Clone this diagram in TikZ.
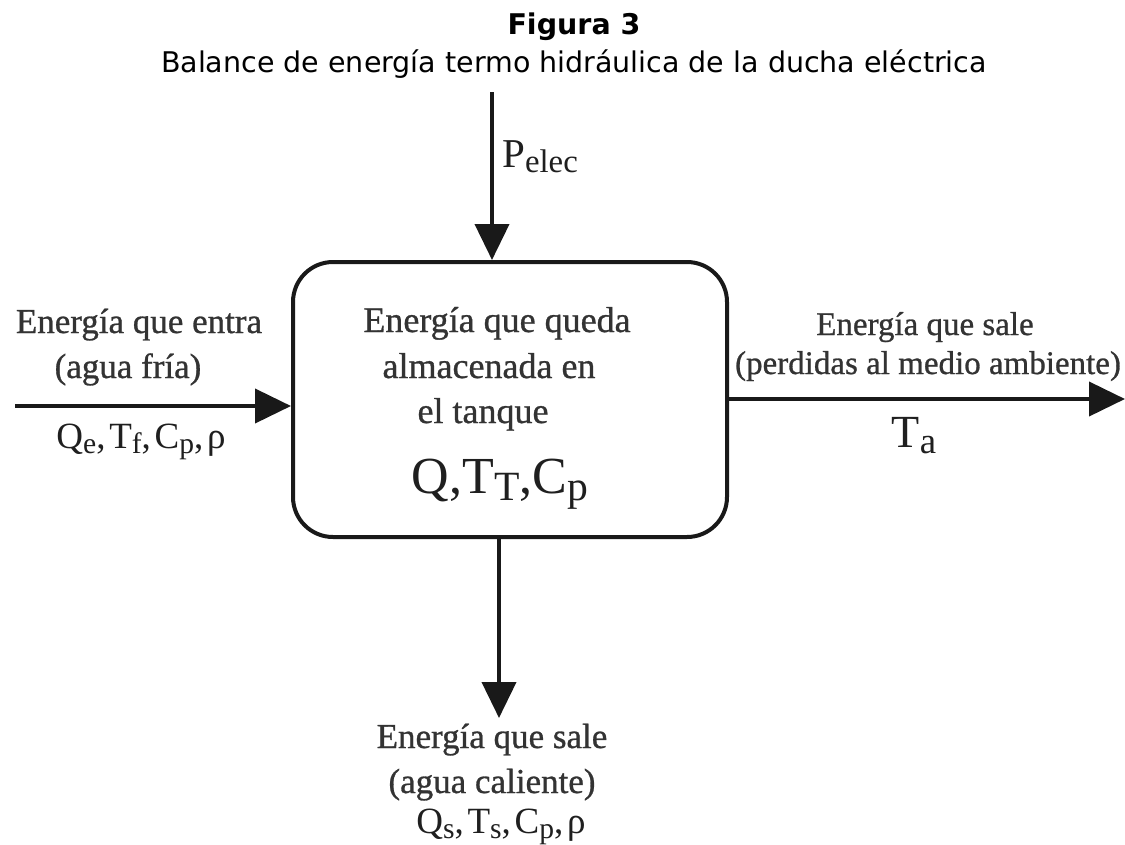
\documentclass[tikz,border=0pt]{standalone}
\usepackage{fontspec}
\usepackage{graphicx}
\setmainfont{Liberation Serif}
\newfontfamily\heavyserif[FakeBold=0.8]{Liberation Serif}
\newfontfamily\titlefont{DejaVu Sans}
\usetikzlibrary{arrows.meta}
\newcommand\sbx[1]{\raisebox{-0.3ex}{\scalebox{0.8}{#1}}}
\newcommand\csp{,\hspace{0.1em}}
\begin{document}
\begin{tikzpicture}[x=1pt,y=-1pt,
  lbl/.style={anchor=base, inner sep=0pt, text=black!80, font=\heavyserif\fontsize{35}{42}\selectfont},
  rlbl/.style={lbl, font=\heavyserif\fontsize{33}{40}\selectfont},
  frm/.style={anchor=base, inner sep=0pt, text=black!88},
  flow/.style={line width=4pt, draw=black!90, -{Triangle[length=36pt,width=34pt]}},
  ttl/.style={anchor=base, inner sep=0pt, text=black},
]
\useasboundingbox[fill=white] (0,0) rectangle (1125,844);
% title
\node[ttl, font=\titlefont\bfseries\fontsize{28.5}{32}\selectfont] (title) at (574,34) {Figura 3};
\node[ttl, font=\titlefont\fontsize{28.5}{32}\selectfont] (subtitle) at (574,72) {Balance de energía termo hidráulica de la ducha eléctrica};
% tank
\node[draw=black!90, line width=4pt, rounded corners=40pt, minimum width=434pt, minimum height=275pt, inner sep=0pt] (tank) at (510,399.5) {};
\node[lbl, font=\heavyserif\fontsize{36}{42}\selectfont] (t1) at (497,332) {Energía que queda};
\node[lbl, font=\heavyserif\fontsize{36}{42}\selectfont] (t2) at (489,378) {almacenada en};
\node[lbl, font=\heavyserif\fontsize{36}{42}\selectfont] (t3) at (483,423) {el tanque};
\node[frm, font=\fontsize{52}{60}\selectfont] (t4) at (500,493) {Q,T\sbx{T},C\sbx{p}};
% connectors
\coordinate (pin) at (492,92);
\coordinate (ein) at (15,406);
\coordinate (aout) at (1125,399);
\coordinate (wout) at (499,718);
\draw[flow] (pin) -- (pin |- tank.north);
\draw[flow] (ein) -- (ein -| tank.west);
\draw[flow] (aout -| tank.east) -- (aout);
\draw[flow] (wout |- tank.south) -- (wout);
% labels
\node[frm, anchor=base west, font=\fontsize{41}{48}\selectfont] (pe) at (502,167) {P\sbx{elec}};
\node[lbl] (l1) at (139,333) {Energía que entra};
\node[lbl] (l2) at (128,378) {(agua fría)};
\node[frm, font=\fontsize{37}{42}\selectfont] (l3) at (141,448) {Q\sbx{e}\csp T\sbx{f}\csp C\sbx{p}\csp ρ};
\node[rlbl] (r1) at (925,335) {Energía que sale};
\node[rlbl] (r2) at (928,374) {(perdidas al medio ambiente)};
\node[frm, font=\fontsize{46}{54}\selectfont] (r3) at (914,447) {T\sbx{a}};
\node[lbl] (b1) at (492,748) {Energía que sale};
\node[lbl] (b2) at (492,793) {(agua caliente)};
\node[frm, font=\fontsize{37}{42}\selectfont] (b3) at (501,833) {Q\sbx{s}\csp T\sbx{s}\csp C\sbx{p}\csp ρ};
\end{tikzpicture}
\end{document}
